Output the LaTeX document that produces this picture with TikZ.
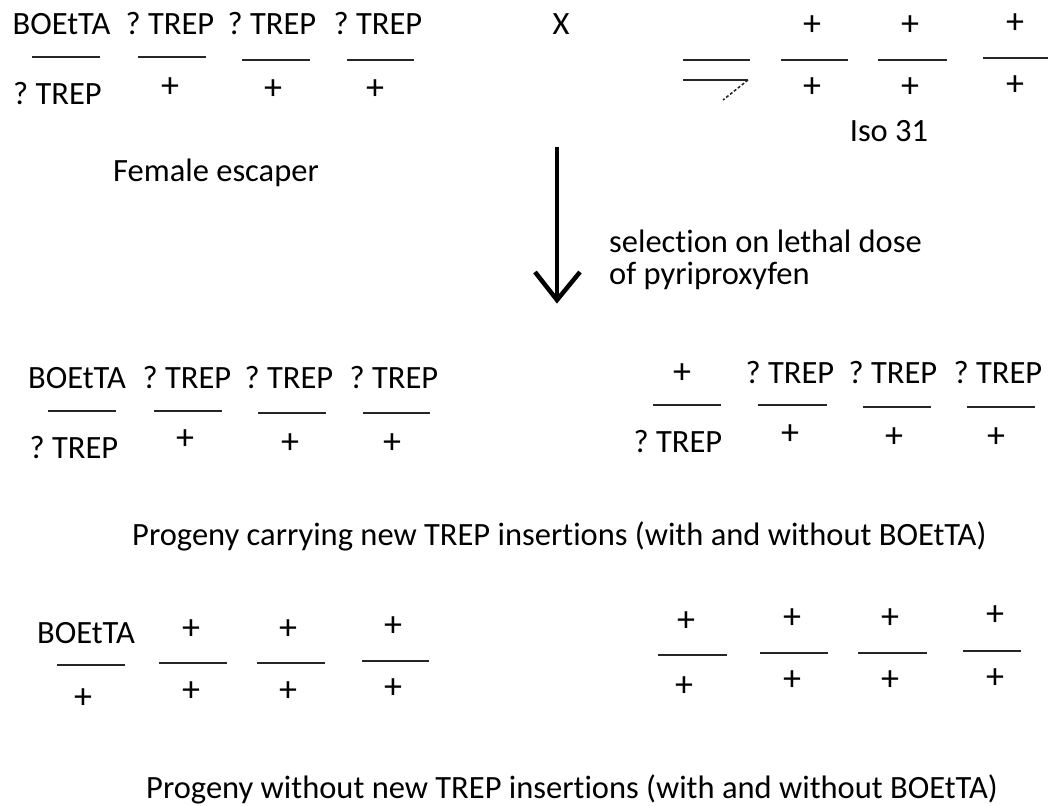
\documentclass[tikz,border=0pt]{standalone}
\usepackage{fontspec}
\setmainfont{Carlito}[Ligatures=NoCommon]
\frenchspacing
\newcommand\chrom[8]{%
  \coordinate (#1l) at (#2,#4);
  \coordinate (#1r) at (#3,#4);
  \draw[bar] (#1l) -- (#1r);
  \node[#5] (#1t) {#6};
  \node[#7] (#1b) {#8};
}
\begin{document}
\begin{tikzpicture}[x=1pt,y=-1pt,
  lbl/.style={inner sep=0pt, anchor=base, font=\fontsize{32.5}{38}\selectfont, text=black},
  lblw/.style={lbl, anchor=base west},
  pl/.style={inner sep=0pt, anchor=center, yshift=-1.5pt, font=\fontsize{36}{40}\selectfont, text=black},
  bar/.style={line width=2pt, draw=black!85},
  arrowline/.style={line width=4.5pt, draw=black}]
\useasboundingbox (0,0) rectangle (1048,805);
% row 1 left: female escaper
\chrom{aa}{32}{100}{57}{lbl,at={(61.5,35)}}{BOEtTA}{lbl,at={(57.5,105)}}{? TREP}
\chrom{ab}{138}{206}{57}{lbl,at={(170,35)}}{? TREP}{pl,at={(170,86)}}{+}
\chrom{ac}{242}{310}{60}{lbl,at={(272,35)}}{? TREP}{pl,at={(273,88)}}{+}
\chrom{ad}{347}{414}{60}{lbl,at={(378,35)}}{? TREP}{pl,at={(375,88)}}{+}
\node[lblw] (fem) at (113,182) {Female escaper};
% cross
\node[lbl] (cross) at (561,35) {X};
% row 1 right: Iso 31
\coordinate (bal1) at (683,60);
\coordinate (bal2) at (750,60);
\coordinate (bal3) at (683,80);
\coordinate (bal4) at (748,80);
\coordinate (bal5) at (723,100);
\draw[bar] (bal1) -- (bal2);
\draw[bar] (bal3) -- (bal4);
\draw[line width=1.5pt, draw=black!85, densely dashed] (bal4) -- (bal5);
\chrom{bb}{781}{848}{60}{pl,at={(812,24)}}{+}{pl,at={(812,86)}}{+}
\chrom{bc}{878}{947}{60}{pl,at={(910,24)}}{+}{pl,at={(910,86)}}{+}
\chrom{bd}{983}{1048}{58}{pl,at={(1015,22)}}{+}{pl,at={(1015,84)}}{+}
\node[lbl] (iso) at (889,142) {Iso 31};
% selection arrow
\coordinate (arrtop) at (557,147);
\coordinate (arrtip) at (557,300);
\coordinate (arrl) at (535,272);
\coordinate (arrr) at (580,272);
\draw[arrowline] (arrtop) -- (arrtip);
\draw[arrowline, line join=miter] (arrl) -- (arrtip) -- (arrr);
\node[lblw] (sel1) at (609,252) {selection on lethal dose};
\node[lblw] (sel2) at (609,284) {of pyriproxyfen};
% row 2
\chrom{ca}{48}{116}{411}{lbl,at={(77,388)}}{BOEtTA}{lbl,at={(74,458)}}{? TREP}
\chrom{cb}{154}{222}{411}{lbl,at={(187,388)}}{? TREP}{pl,at={(185,438)}}{+}
\chrom{cc}{258}{326}{413}{lbl,at={(289,388)}}{? TREP}{pl,at={(290,442)}}{+}
\chrom{cd}{363}{430}{413}{lbl,at={(394,388)}}{? TREP}{pl,at={(392,442)}}{+}
\chrom{da}{653}{721}{405}{pl,at={(682,372)}}{+}{lbl,at={(678,452)}}{? TREP}
\chrom{db}{758}{827}{405}{lbl,at={(790,383)}}{? TREP}{pl,at={(790,433)}}{+}
\chrom{dc}{863}{931}{407}{lbl,at={(893,383)}}{? TREP}{pl,at={(894,436)}}{+}
\chrom{dd}{967}{1035}{407}{lbl,at={(998,383)}}{? TREP}{pl,at={(996,436)}}{+}
\node[lblw] (prog1) at (132,545) {Progeny carrying new TREP insertions (with and without BOEtTA)};
% row 3
\chrom{ea}{57}{125}{665}{lbl,at={(86,643)}}{BOEtTA}{pl,at={(83,697)}}{+}
\chrom{eb}{159}{227}{663}{pl,at={(191,628)}}{+}{pl,at={(191,690)}}{+}
\chrom{ec}{257}{325}{663}{pl,at={(288,628)}}{+}{pl,at={(288,690)}}{+}
\chrom{ed}{362}{429}{661}{pl,at={(393,625)}}{+}{pl,at={(393,687)}}{+}
\chrom{fa}{658}{727}{655}{pl,at={(686,620)}}{+}{pl,at={(684,685)}}{+}
\chrom{fb}{760}{828}{653}{pl,at={(792,617)}}{+}{pl,at={(792,679)}}{+}
\chrom{fc}{858}{927}{653}{pl,at={(890,617)}}{+}{pl,at={(890,679)}}{+}
\chrom{fd}{963}{1021}{651}{pl,at={(995,614)}}{+}{pl,at={(995,677)}}{+}
\node[lblw] (prog2) at (146,798) {Progeny without new TREP insertions (with and without BOEtTA)};
\end{tikzpicture}
\end{document}
